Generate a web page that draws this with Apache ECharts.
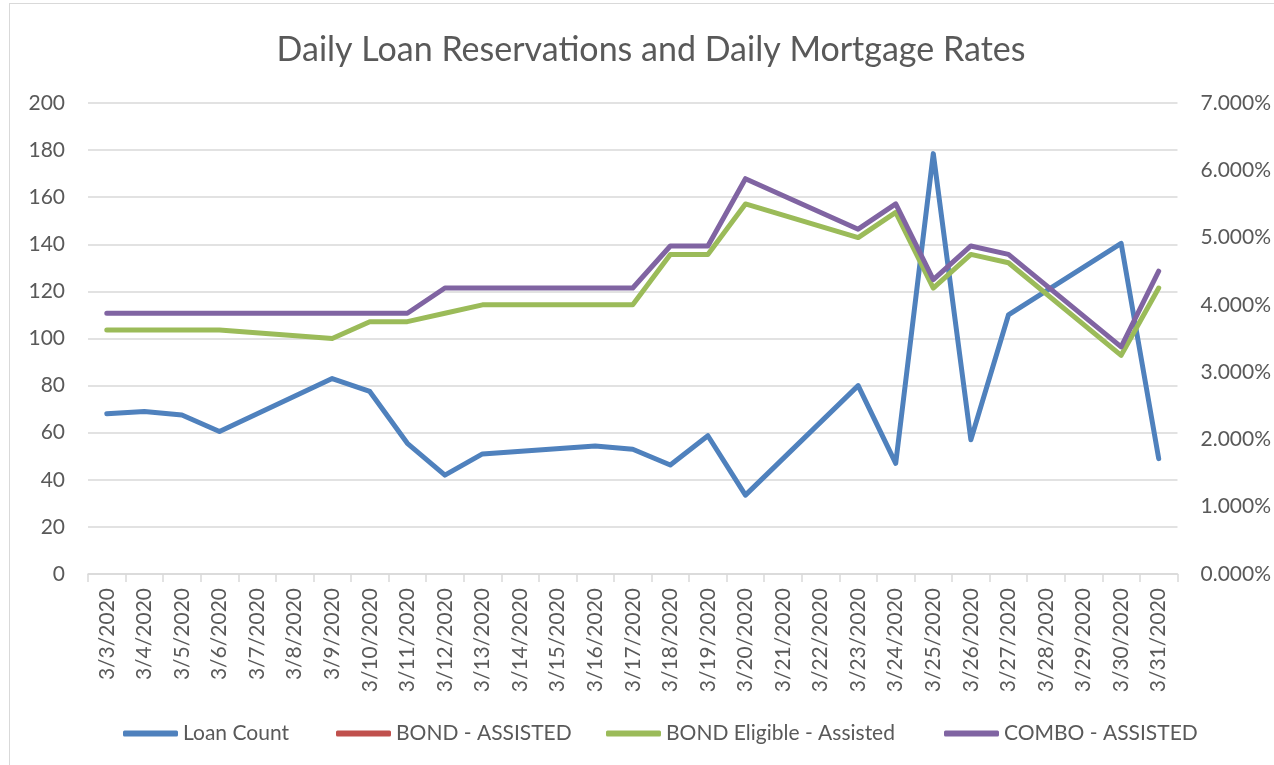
<!DOCTYPE html>
<html>
<head>
<meta charset="utf-8">
<script src="https://cdn.jsdelivr.net/npm/echarts@6/dist/echarts.min.js"></script>
<style>
  html, body { margin: 0; padding: 0; background: #ffffff; }
  #frame { position: absolute; left: 9px; top: 3px; width: 1300px; height: 800px; border: 1px solid #d9d9d9; box-sizing: border-box; }
  #chart { position: absolute; left: 0; top: 0; width: 1274px; height: 765px; }
</style>
</head>
<body>
<div id="frame"></div>
<div id="chart"></div>
<script>
const categories = ['3/3/2020','3/4/2020','3/5/2020','3/6/2020','3/7/2020','3/8/2020','3/9/2020','3/10/2020','3/11/2020','3/12/2020','3/13/2020','3/14/2020','3/15/2020','3/16/2020','3/17/2020','3/18/2020','3/19/2020','3/20/2020','3/21/2020','3/22/2020','3/23/2020','3/24/2020','3/25/2020','3/26/2020','3/27/2020','3/28/2020','3/29/2020','3/30/2020','3/31/2020'];
const seriesNames = ['Loan Count', 'BOND - ASSISTED', 'BOND Eligible - Assisted', 'COMBO - ASSISTED'];
const loanCount = [68, 69, 67.5, 60.5, null, null, 83, 77.5, 55.5, 42, 51, null, null, 54.4, 53, 46.3, 58.7, 33.5, null, null, 80, 47, 178.5, 57, 110, null, null, 140.4, 49];
const bondAssisted = [];
const bondEligible = [3.625, 3.625, 3.625, 3.625, null, null, 3.5, 3.75, 3.75, 3.875, 4.0, null, null, 4.0, 4.0, 4.75, 4.75, 5.5, null, null, 5.0, 5.375, 4.25, 4.75, 4.625, null, null, 3.25, 4.25];
const comboAssisted = [3.875, 3.875, 3.875, 3.875, null, null, 3.875, 3.875, 3.875, 4.25, 4.25, null, null, 4.25, 4.25, 4.875, 4.875, 5.875, null, null, 5.125, 5.5, 4.375, 4.875, 4.75, null, null, 3.375, 4.5];
const leftTicks = { min: 0, max: 200, interval: 20 };
const rightTicks = { min: 0, max: 7, interval: 1 };

const colors = ['#4F81BD', '#C0504D', '#9BBB59', '#8064A2'];
const FONT = 'Lato';
const TXT = '#595959';

const chart = echarts.init(document.getElementById('chart'), null, { renderer: 'canvas' });

const lineStyle = (c) => ({ color: c, width: 5, cap: 'round', join: 'round' });
const legendLefts = [123, 336, 606, 944];

const option = {
  backgroundColor: 'transparent',
  animation: false,
  graphic: [{
    type: 'text',
    x: 651, y: 50,
    style: {
      text: 'Daily Loan Reservations and Daily Mortgage Rates',
      fill: TXT, font: '400 34px ' + FONT,
      textAlign: 'center', textVerticalAlign: 'middle'
    }
  }],
  legend: seriesNames.map((n, i) => ({
    data: [n], left: legendLefts[i], top: 723, padding: 0,
    itemWidth: 55, itemHeight: 6, itemGap: 6, icon: 'roundRect',
    textStyle: { color: TXT, fontSize: 21, fontFamily: FONT, padding: [0, 0, 0, 0] },
    selectedMode: false
  })),
  grid: { left: 88, right: 92, top: 103, bottom: 191, containLabel: false },
  xAxis: {
    type: 'category', data: categories, boundaryGap: true,
    axisLine: { lineStyle: { color: '#d9d9d9', width: 1.5 } },
    axisTick: { show: true, interval: 0, length: 8, lineStyle: { color: '#d9d9d9', width: 1.5 } },
    axisLabel: { interval: 0, rotate: 90, color: TXT, fontSize: 21, fontFamily: FONT, margin: 14 },
    splitLine: { show: false }
  },
  yAxis: [{
    type: 'value', min: leftTicks.min, max: leftTicks.max, interval: leftTicks.interval,
    axisLine: { show: false }, axisTick: { show: false },
    axisLabel: { color: TXT, fontSize: 21, fontFamily: FONT, margin: 23 },
    splitLine: { lineStyle: { color: '#d9d9d9', width: 1.5 } }
  }, {
    type: 'value', min: rightTicks.min, max: rightTicks.max, interval: rightTicks.interval,
    axisLine: { show: false }, axisTick: { show: false },
    axisLabel: { color: TXT, fontSize: 21, fontFamily: FONT, margin: 23, formatter: v => v.toFixed(3) + '%' },
    splitLine: { show: false }
  }],
  series: [
    { name: seriesNames[0], type: 'line', yAxisIndex: 0, data: loanCount, connectNulls: true, showSymbol: false, symbol: 'none', color: colors[0], lineStyle: lineStyle(colors[0]) },
    { name: seriesNames[1], type: 'line', yAxisIndex: 1, data: bondAssisted, connectNulls: true, showSymbol: false, symbol: 'none', color: colors[1], lineStyle: lineStyle(colors[1]) },
    { name: seriesNames[2], type: 'line', yAxisIndex: 1, data: bondEligible, connectNulls: true, showSymbol: false, symbol: 'none', color: colors[2], lineStyle: lineStyle(colors[2]) },
    { name: seriesNames[3], type: 'line', yAxisIndex: 1, data: comboAssisted, connectNulls: true, showSymbol: false, symbol: 'none', color: colors[3], lineStyle: lineStyle(colors[3]) }
  ]
};
chart.setOption(option);
</script>
</body>
</html>
